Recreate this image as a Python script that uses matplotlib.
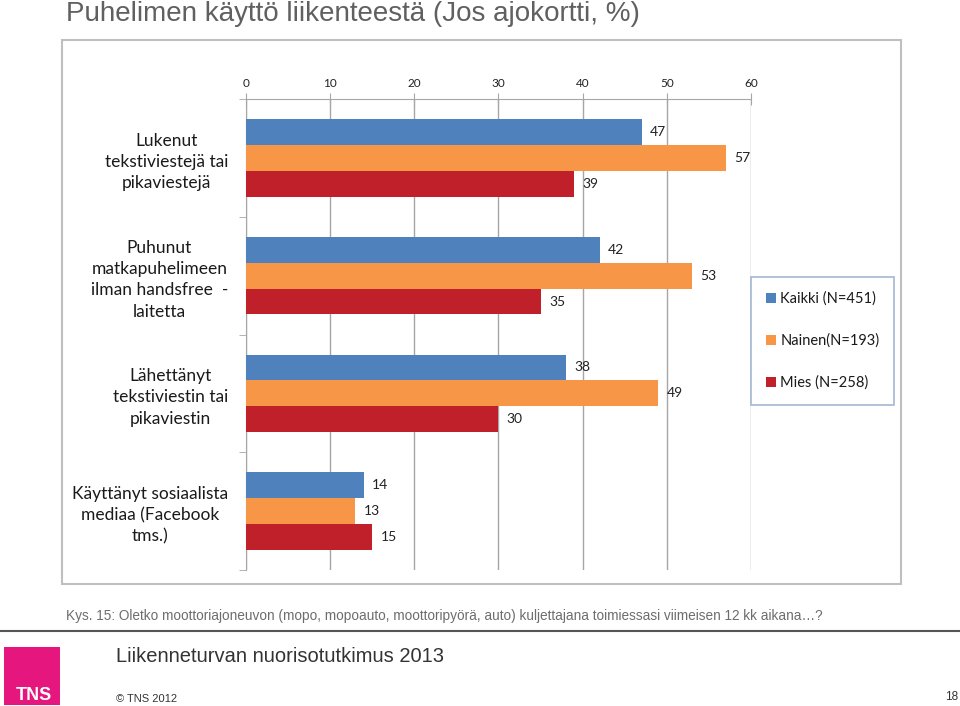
import matplotlib
matplotlib.use('Agg')
import matplotlib.pyplot as plt
from matplotlib.patches import Rectangle, Patch
import numpy as np

categories = ['Lukenut\ntekstiviestejä tai\npikaviestejä',
              'Puhunut\nmatkapuhelimeen\nilman handsfree  -\nlaitetta',
              'Lähettänyt\ntekstiviestin tai\npikaviestin',
              'Käyttänyt sosiaalista\nmediaa (Facebook\ntms.)']
series_names = ['Kaikki (N=451)', 'Nainen(N=193)', 'Mies (N=258)']
kaikki = [47, 42, 38, 14]
nainen = [57, 53, 49, 13]
mies = [39, 35, 30, 15]
x_ticks = [0, 10, 20, 30, 40, 50, 60]

colors = ['#4F81BD', '#F79646', '#C0202A']
chart_font = 'Lato'
slide_font = 'Liberation Sans'

W, H = 960, 706
fig = plt.figure(figsize=(W / 100, H / 100), dpi=100)
fig.patch.set_facecolor('white')


def fx(px):
    return px / W


def fy(py):
    return 1 - py / H


# outer chart frame
fig.patches.append(Rectangle((fx(62), fy(584)), fx(901) - fx(62), fy(40) - fy(584),
                             transform=fig.transFigure, fill=False,
                             edgecolor='#bfbfbf', lw=1.5))

ax = fig.add_axes([fx(246), fy(570), fx(751) - fx(246), fy(99) - fy(570)])

y = np.arange(len(categories))
h = 0.22
for i, (vals, name) in enumerate(zip([kaikki, nainen, mies], series_names)):
    off = (i - 1) * h
    bars = ax.barh(y + off, vals, height=h, color=colors[i], label=name, zorder=3)
    for b, v in zip(bars, vals):
        ax.annotate(str(v), (b.get_width(), b.get_y() + b.get_height() / 2),
                    xytext=(6, 0), textcoords='offset points', va='center', ha='left',
                    fontsize=10, color='#222222', family=chart_font)

ax.set_xlim(0, 60)
ax.set_ylim(len(categories) - 0.5, -0.5)
ax.xaxis.tick_top()
ax.set_xticks(x_ticks)
ax.set_xticklabels([str(t) for t in x_ticks], fontsize=8.5, family=chart_font, color='#222222')
ax.tick_params(axis='x', direction='inout', length=8, color='#a6a6a6', pad=3)
ax.grid(axis='x', color='#a6a6a6', lw=1, zorder=0)

ax.set_yticks(y)
ax.set_yticklabels(categories, fontsize=12.5, family=chart_font, color='#1a1a1a',
                   ha='right', multialignment='center', linespacing=1.4)
ax.tick_params(axis='y', which='major', length=0, pad=13)
ax.set_yticks(np.arange(len(categories) + 1) - 0.5, minor=True)
ax.tick_params(axis='y', which='minor', length=5, direction='out', color='#a6a6a6')

for s in ['right', 'bottom']:
    ax.spines[s].set_visible(False)
for s in ['left', 'top']:
    ax.spines[s].set_color('#a6a6a6')

handles = [Patch(facecolor=c, label=n) for c, n in zip(colors, series_names)]
leg = fig.legend(handles=handles, loc='upper left', bbox_to_anchor=(fx(751), fy(277)),
                 frameon=True, fancybox=False, borderaxespad=0, borderpad=1.0,
                 labelspacing=1.9, handlelength=0.7, handleheight=0.7,
                 handletextpad=0.3, prop={'family': chart_font, 'size': 10.5})
leg.get_frame().set_edgecolor('#8EA6C8')
leg.get_frame().set_linewidth(1.2)
for t in leg.get_texts():
    t.set_color('#1a1a1a')

# slide texts
fig.text(fx(66), fy(14), 'Puhelimen käyttö liikenteestä (Jos ajokortti, %)',
         fontsize=20, family=slide_font, color='#606060', va='center', ha='left')
fig.text(fx(66), fy(616),
         'Kys. 15: Oletko moottoriajoneuvon (mopo, mopoauto, moottoripyörä, auto) '
         'kuljettajana toimiessasi viimeisen 12 kk aikana…?',
         fontsize=9.8, family=slide_font, color='#6d6d6d', va='center', ha='left')
fig.add_artist(plt.Line2D([0, 1], [fy(631), fy(631)], transform=fig.transFigure,
                          color='#555555', lw=1.5))
fig.text(fx(116), fy(656), 'Liikenneturvan nuorisotutkimus 2013',
         fontsize=14.5, family=slide_font, color='#333333', va='center', ha='left')
fig.text(fx(116), fy(699), '© TNS 2012', fontsize=8, family=slide_font,
         color='#333333', va='center', ha='left')
fig.text(fx(958), fy(697), '18', fontsize=8.5, family=slide_font,
         color='#333333', va='center', ha='right')

# TNS logo
fig.patches.append(Rectangle((fx(4), fy(705)), fx(60) - fx(4), fy(647) - fy(705),
                             transform=fig.transFigure, facecolor='#E5177E',
                             edgecolor='none'))
fig.text(fx(16), fy(696), 'TNS', fontsize=13, family=slide_font, weight='bold',
         color='white', va='center', ha='left')

fig.savefig('out.png', dpi=100, facecolor='white')
